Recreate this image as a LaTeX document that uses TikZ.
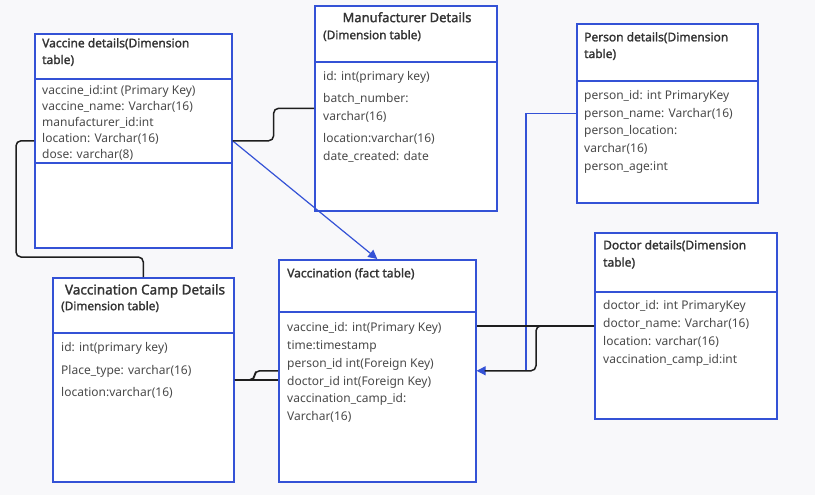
\documentclass[tikz,border=0pt]{standalone}
\usepackage{fontspec}
\setmainfont{Noto Sans}
\newfontfamily\headfont{Noto Sans}[FakeBold=1.6]
\usetikzlibrary{arrows.meta}
\definecolor{tblue}{HTML}{3452D6}
\definecolor{tgray}{HTML}{4A4A4A}
\definecolor{tdark}{HTML}{333333}
\definecolor{paper}{HTML}{F8F8FA}
\definecolor{linkblk}{HTML}{1E1E1E}
\begin{document}
\begin{tikzpicture}[x=1pt,y=-1pt,%
table/.style={rectangle, draw=tblue, line width=1.6pt, fill=white,
anchor=north west, inner sep=0pt},
title/.style={anchor=north west, inner sep=0pt, align=left, text=tdark,
font=\headfont\fontsize{12}{16.7}\selectfont},
subtitle/.style={anchor=north west, inner sep=0pt, text=tdark,
font=\headfont\fontsize{11.8}{14}\selectfont},
fields/.style={anchor=north west, inner sep=0pt, align=left, text=tgray,
font=\fontsize{12}{16}\selectfont},
rel/.style={draw=linkblk, line width=1.5pt, rounded corners=5pt},
ref/.style={draw=tblue, line width=1.2pt, -{Triangle[length=9pt,width=9pt]}}]
\fill[paper] (0,0) rectangle (815,495);
\useasboundingbox (0,0) rectangle (815,495);
\node (vacdim) at (34,33) [table, minimum width=197pt, minimum height=214pt] {};
\node (manuf) at (314,5) [table, minimum width=182pt, minimum height=205pt] {};
\node (person) at (576,23) [table, minimum width=181pt, minimum height=179pt] {};
\node (camp) at (52,277) [table, minimum width=181pt, minimum height=204pt] {};
\node (vaccination) at (278,259) [table, minimum width=197pt, minimum height=222pt] {};
\node (doctor) at (594,232) [table, minimum width=182pt, minimum height=186pt] {};
\draw[tblue, line width=1.6pt] ([yshift=-46pt]vacdim.north west) -- ([yshift=-46pt]vacdim.north east);
\draw[tblue, line width=1.6pt] ([yshift=-130pt]vacdim.north west) -- ([yshift=-130pt]vacdim.north east);
\draw[tblue, line width=1.6pt] ([yshift=-57pt]manuf.north west) -- ([yshift=-57pt]manuf.north east);
\draw[tblue, line width=1.6pt] ([yshift=-58pt]person.north west) -- ([yshift=-58pt]person.north east);
\draw[tblue, line width=1.6pt] ([yshift=-56pt]camp.north west) -- ([yshift=-56pt]camp.north east);
\draw[tblue, line width=1.6pt] ([yshift=-53pt]vaccination.north west) -- ([yshift=-53pt]vaccination.north east);
\draw[tblue, line width=1.6pt] ([yshift=-60pt]doctor.north west) -- ([yshift=-60pt]doctor.north east);
\node (vacdimT) at (42,38) [title] {Vaccine details(Dimension\\table)};
\node (vacdimF) at (42,85) [fields] {vaccine\_id:int (Primary Key)\\vaccine\_name: Varchar(16)\\
manufacturer\_id:int\\location: Varchar(16)\\dose: varchar(8)};
\node (manufT) at (407,12) [title, anchor=north, font=\headfont\fontsize{13}{16}\selectfont] {Manufacturer Details};
\node (manufS) at (323,30) [subtitle] {(Dimension table)};
\node (manufF) at (323,71) [fields, font=\fontsize{12}{18}\selectfont] {id: int(primary key)\\[4pt]
batch\_number:\\varchar(16)\\[4pt]location:varchar(16)\\date\_created: date};
\node (personT) at (584,32) [title] {Person details(Dimension\\table)};
\node (personF) at (584,90) [fields, font=\fontsize{12}{17.7}\selectfont] {person\_id: int PrimaryKey\\
person\_name: Varchar(16)\\person\_location:\\varchar(16)\\person\_age:int};
\node (campT) at (145,284) [title, anchor=north, font=\headfont\fontsize{13.5}{16}\selectfont] {Vaccination Camp Details};
\node (campS) at (61,301) [subtitle] {(Dimension table)};
\node (campF) at (61,342) [fields, font=\fontsize{12}{22.7}\selectfont] {id: int(primary key)\\
Place\_type: varchar(16)\\location:varchar(16)};
\node (vaccinationT) at (287,268) [title] {Vaccination (fact table)};
\node (vaccinationF) at (287,322) [fields, font=\fontsize{12}{17.9}\selectfont] {vaccine\_id: int(Primary Key)\\
time:timestamp\\person\_id int(Foreign Key)\\doctor\_id int(Foreign Key)\\
vaccination\_camp\_id:\\Varchar(16)};
\node (doctorT) at (603,240) [title, font=\headfont\fontsize{12}{17.3}\selectfont] {Doctor details(Dimension\\table)};
\node (doctorF) at (603,300) [fields, font=\fontsize{12}{18}\selectfont] {doctor\_id: int PrimaryKey\\
doctor\_name: Varchar(16)\\location: varchar(16)\\vaccination\_camp\_id:int};
% links
\draw[ref] (vacdim.east) -- (vaccination.north);
\draw[ref] (person.west) -- ++(-50,0) |- (vaccination.east);
\draw[rel] (vacdim.east) -- ++(41,0) |- (manuf.west);
\draw[rel] (vacdim.west) -- ++(-18,0) |- ([yshift=20pt]camp.north) -- (camp.north);
\draw[rel] (camp.east) -- (camp.east -| vaccination.west);
\draw[rel] (camp.east) -- ++(20,0) |- (vaccination.west);
\draw[rel] (doctor.west) -- (doctor.west -| vaccination.east);
\draw[rel, shorten >=8pt] (doctor.west) -- ++(-58,0) |- (vaccination.east);
\end{tikzpicture}
\end{document}
